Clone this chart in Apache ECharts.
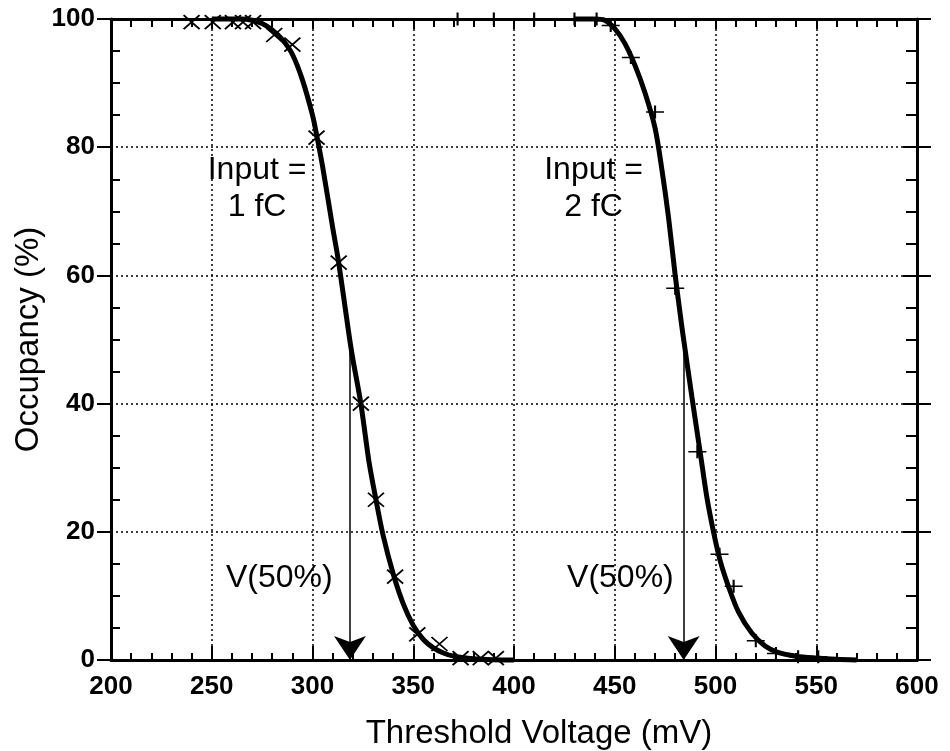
<!DOCTYPE html>
<html>
<head>
<meta charset="utf-8">
<script src="https://cdn.jsdelivr.net/npm/echarts@6/dist/echarts.min.js"></script>
<style>
  html, body { margin: 0; padding: 0; background: #fff; }
  #chart { width: 950px; height: 751px; }
</style>
</head>
<body>
<div id="chart"></div>
<script>
// ---------- data ----------
const xTickValues = [200, 250, 300, 350, 400, 450, 500, 550, 600];
const yTickValues = [0, 20, 40, 60, 80, 100];

// 1 fC measured points (x markers)
const fc1X = [240, 250.5, 260.5, 265.5, 270.5, 281, 290, 302, 313, 324, 331.5, 341, 352, 363, 373.5, 383.5, 391];
const fc1Y = [99.5, 99.5, 99.5, 99.5, 99.5, 97.5, 96, 81.5, 62, 40, 25, 13, 4, 2.5, 0.3, 0.3, 0.3];

// 2 fC measured points (+ markers)
const fc2X = [372, 390, 410, 430, 441, 448, 458, 470, 480, 491, 502, 509, 520, 530, 541, 551];
const fc2Y = [100, 100, 100, 100, 100, 99, 94, 85.5, 58, 32.5, 16.5, 11.5, 3, 1, 0.5, 0.5];

// fitted curves
const fit1X = [250, 265, 270, 275, 280, 285, 290, 295, 300, 302, 305, 310, 313, 318, 320, 324, 328, 331.5, 335, 340, 345, 350, 355, 360, 365, 370, 380, 390, 400];
const fit1Y = [100, 100, 99.8, 99.3, 98.3, 96.8, 94.5, 90.5, 85, 82, 77, 67.5, 62, 51, 47, 40, 31, 25, 19.5, 13.5, 8.8, 5.4, 3.2, 1.9, 1.1, 0.6, 0.2, 0.05, 0];

const fit2X = [430, 440, 445, 450, 455, 460, 465, 470, 473.4, 476.7, 480, 483.3, 484.2, 488.3, 492.4, 495.7, 499, 502.3, 506.4, 511.4, 518, 524.6, 531, 540, 550, 560, 570];
const fit2Y = [100, 100, 99.8, 98.5, 96.2, 92.8, 88.5, 83, 76.5, 69, 60, 52, 50, 41, 32.4, 25.4, 20, 15.5, 11.5, 7.5, 4.2, 2.2, 1.2, 0.6, 0.3, 0.1, 0];

// V(50%) positions and arrow start level
const v50X = [318.6, 484.2];
const v50Level = 50;

// annotation texts (data coordinates)
const annoText = ['Input =\n1 fC', 'Input =\n2 fC', 'V(50%)', 'V(50%)'];
const annoX = [272.5, 439.5, 283.5, 452.8];
const annoY = [73.6, 73.6, 12.7, 12.7];

// ---------- chart ----------
const zip = (a, b) => a.map((v, i) => [v, b[i]]);
const FONT = "'Liberation Sans', Arial, Helvetica, sans-serif";
const black = '#000';

const crossPath = 'path://M0,0L10,10M10,0L0,10';
const plusPath = 'path://M0,5L10,5M5,0L5,10';

const xBase = { type: 'value', min: 200, max: 600, interval: 50 };
const yBase = { type: 'value', min: 0, max: 100, interval: 20 };

const chart = echarts.init(document.getElementById('chart'), null, { renderer: 'canvas' });

const arrowLine = (x) => ({
  silent: true, symbol: ['none', 'arrow'], symbolSize: 24,
  lineStyle: { color: black, width: 1.5, type: 'solid', opacity: 1 },
  itemStyle: { color: black },
  label: { show: false },
  emphasis: { disabled: true },
  data: [[{ coord: [x, v50Level] }, { coord: [x, 0] }]]
});

const option = {
  backgroundColor: '#fff',
  animation: false,
  grid: { left: 111, right: 33, top: 19, bottom: 91, containLabel: false, outerBoundsMode: 'none' },
  xAxis: [
    Object.assign({}, xBase, {
      position: 'bottom',
      name: 'Threshold Voltage (mV)',
      nameLocation: 'middle',
      nameGap: 57,
      nameTextStyle: { fontFamily: FONT, fontSize: 33, color: black, padding: [0, 0, 0, 50] },
      axisLine: { onZero: false, lineStyle: { color: black, width: 3 } },
      axisTick: { show: true, inside: true, length: 14, lineStyle: { color: black, width: 2 } },
      minorTick: { show: true, splitNumber: 5, length: 7, lineStyle: { color: black, width: 2 } },
      splitLine: { show: true, lineStyle: { color: black, width: 1.5, type: [2, 3] } },
      axisLabel: {
        margin: 14, fontFamily: FONT, fontSize: 26, fontWeight: 'bold', color: black,
        formatter: v => (xTickValues.indexOf(v) >= 0 ? String(v) : '')
      }
    }),
    Object.assign({}, xBase, {
      position: 'top',
      axisLine: { onZero: false, lineStyle: { color: black, width: 3 } },
      axisTick: { show: true, inside: true, length: 10, lineStyle: { color: black, width: 2 } },
      minorTick: { show: true, splitNumber: 5, length: 8, lineStyle: { color: black, width: 2 } },
      splitLine: { show: false },
      axisLabel: { show: false }
    })
  ],
  yAxis: [
    Object.assign({}, yBase, {
      position: 'left',
      name: 'Occupancy (%)',
      nameLocation: 'middle',
      nameGap: 66,
      nameMoveOverlap: false,
      nameTextStyle: { fontFamily: FONT, fontSize: 33, color: black },
      axisLine: { onZero: false, lineStyle: { color: black, width: 3 } },
      axisTick: { show: false, inside: true },
      minorTick: { show: true, splitNumber: 4, length: 9, lineStyle: { color: black, width: 2 } },
      splitLine: { show: true, lineStyle: { color: black, width: 1.5, type: [2, 3] } },
      axisLabel: {
        margin: 16, fontFamily: FONT, fontSize: 26, fontWeight: 'bold', color: black,
        formatter: v => (yTickValues.indexOf(v) >= 0 ? String(v) : '')
      }
    }),
    Object.assign({}, yBase, {
      position: 'left', offset: 0,
      axisLine: { show: false },
      axisTick: { show: true, inside: false, length: 14, lineStyle: { color: black, width: 2 } },
      minorTick: { show: false },
      splitLine: { show: false },
      axisLabel: { show: false }
    }),
    Object.assign({}, yBase, {
      position: 'right', offset: 0,
      axisLine: { onZero: false, lineStyle: { color: black, width: 3 } },
      axisTick: { show: true, inside: true, length: 14, lineStyle: { color: black, width: 2 } },
      minorTick: { show: true, splitNumber: 4, length: 11, lineStyle: { color: black, width: 2 } },
      splitLine: { show: false },
      axisLabel: { show: false }
    }),
    Object.assign({}, yBase, {
      position: 'right', offset: 0,
      axisLine: { show: false },
      axisTick: { show: true, inside: false, length: 14, lineStyle: { color: black, width: 2 } },
      minorTick: { show: false },
      splitLine: { show: false },
      axisLabel: { show: false }
    })
  ],
  series: [
    {
      name: 'fit 1 fC', type: 'line', data: zip(fit1X, fit1Y),
      smooth: 0.3, showSymbol: false, clip: false,
      lineStyle: { color: black, width: 5 },
      markLine: arrowLine(v50X[0]),
      z: 3
    },
    {
      name: 'fit 2 fC', type: 'line', data: zip(fit2X, fit2Y),
      smooth: 0.3, showSymbol: false, clip: false,
      lineStyle: { color: black, width: 5 },
      markLine: arrowLine(v50X[1]),
      z: 3
    },
    {
      name: '1 fC', type: 'scatter', data: zip(fc1X, fc1Y), clip: false,
      symbol: crossPath, symbolSize: [16, 14],
      itemStyle: { color: 'rgba(0,0,0,0)', borderColor: black, borderWidth: 1.8, opacity: 1 },
      z: 4
    },
    {
      name: '2 fC', type: 'scatter', data: zip(fc2X, fc2Y), clip: false,
      symbol: plusPath, symbolSize: [18, 13],
      itemStyle: { color: 'rgba(0,0,0,0)', borderColor: black, borderWidth: 1.8, opacity: 1 },
      z: 4
    },
    {
      name: 'annotations', type: 'scatter', clip: false, silent: true,
      symbolSize: 0,
      itemStyle: { opacity: 1 },
      data: annoText.map((t, i) => ({ name: t, value: [annoX[i], annoY[i]] })),
      label: {
        show: true, position: 'inside', formatter: p => p.name,
        fontFamily: FONT, fontSize: 32, lineHeight: 37, color: black, align: 'center'
      },
      z: 5
    }
  ]
};

chart.setOption(option);
</script>
</body>
</html>
